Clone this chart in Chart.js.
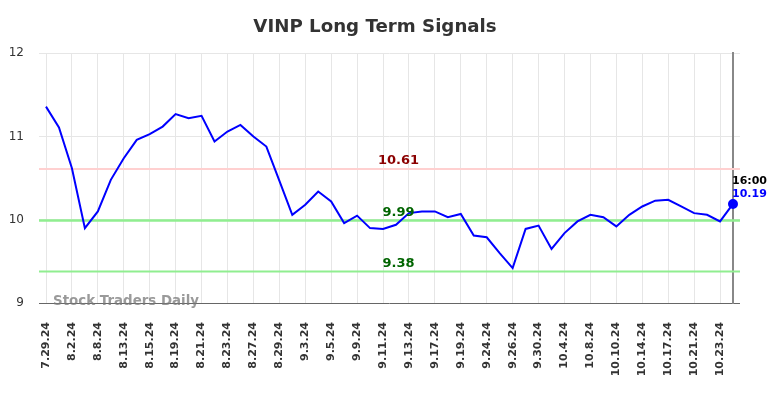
<!DOCTYPE html>
<html>
<head>
<meta charset="utf-8">
<script src="https://cdn.jsdelivr.net/npm/chart.js@4"></script>
<style>
  html, body { margin: 0; padding: 0; background: #fff; }
  #wrap { width: 784px; height: 398px; }
</style>
</head>
<body>
<div id="wrap"><canvas id="chart" width="784" height="398"></canvas></div>
<script>
// Chart data
const dates = [
  '7.29.24', '7.31.24', '8.2.24', '8.6.24', '8.8.24', '8.12.24', '8.13.24', '8.14.24', '8.15.24', '8.16.24',
  '8.19.24', '8.20.24', '8.21.24', '8.22.24', '8.23.24', '8.26.24', '8.27.24', '8.28.24', '8.29.24', '8.30.24',
  '9.3.24', '9.4.24', '9.5.24', '9.6.24', '9.9.24', '9.10.24', '9.11.24', '9.12.24', '9.13.24', '9.16.24',
  '9.17.24', '9.18.24', '9.19.24', '9.20.24', '9.24.24', '9.25.24', '9.26.24', '9.27.24', '9.30.24', '10.2.24',
  '10.4.24', '10.7.24', '10.8.24', '10.9.24', '10.10.24', '10.11.24', '10.14.24', '10.15.24', '10.17.24', '10.18.24',
  '10.21.24', '10.22.24', '10.23.24', '10.24.24'
];
const prices = [
  11.36, 11.11, 10.62, 9.90, 10.10, 10.48, 10.74, 10.96, 11.03, 11.12,
  11.27, 11.22, 11.25, 10.94, 11.06, 11.14, 11.00, 10.88, 10.47, 10.06,
  10.18, 10.34, 10.22, 9.96, 10.05, 9.90, 9.89, 9.94, 10.08, 10.10,
  10.10, 10.03, 10.07, 9.81, 9.79, 9.60, 9.42, 9.89, 9.93, 9.65,
  9.84, 9.98, 10.06, 10.03, 9.92, 10.06, 10.16, 10.23, 10.24, 10.16,
  10.08, 10.06, 9.98, 10.19
];
const signalLevels = [10.61, 9.99, 9.38];
const yTicks = [9, 10, 11, 12];
const lastTime = '16:00';

// Styles for the signal lines
const levelLineColors = ['#ffd0d0', '#90ee90', '#90ee90'];
const levelLineWidths = [2, 2.5, 2];
const levelTextColors = ['#8b0000', '#006400', '#006400'];

const lastIndex = prices.length - 1;

const overlayPlugin = {
  id: 'overlay',
  beforeDatasetsDraw(chart) {
    const { ctx, chartArea, scales } = chart;
    ctx.save();
    signalLevels.forEach((lvl, i) => {
      const y = scales.y.getPixelForValue(lvl);
      ctx.strokeStyle = levelLineColors[i];
      ctx.lineWidth = levelLineWidths[i];
      ctx.beginPath();
      ctx.moveTo(chartArea.left - 7, y);
      ctx.lineTo(chartArea.right + 7, y);
      ctx.stroke();
    });
    // watermark
    ctx.font = 'bold 13.4px "DejaVu Sans"';
    ctx.fillStyle = 'rgba(120,120,120,0.75)';
    ctx.textAlign = 'left';
    ctx.textBaseline = 'middle';
    ctx.fillText('Stock Traders Daily', chartArea.left + 7, chartArea.bottom - 1);
    ctx.restore();
  },
  afterDatasetsDraw(chart) {
    const { ctx, chartArea, scales } = chart;
    ctx.save();
    ctx.font = 'bold 13px "DejaVu Sans"';
    ctx.textAlign = 'center';
    ctx.textBaseline = 'middle';
    const cx = (chartArea.left + chartArea.right) / 2 + 9;
    signalLevels.forEach((lvl, i) => {
      const y = scales.y.getPixelForValue(lvl);
      ctx.fillStyle = levelTextColors[i];
      ctx.fillText(lvl.toFixed(2), cx, y - 8);
    });
    // last value labels
    const px = scales.x.getPixelForValue(lastIndex);
    const py = scales.y.getPixelForValue(prices[lastIndex]);
    ctx.font = 'bold 11px "DejaVu Sans"';
    ctx.textAlign = 'left';
    ctx.fillStyle = '#000';
    ctx.fillText(lastTime, px - 1, py - 23);
    ctx.fillStyle = '#0000ff';
    ctx.fillText(prices[lastIndex].toFixed(2), px - 1, py - 10);
    ctx.restore();
  }
};

new Chart(document.getElementById('chart'), {
  type: 'line',
  data: {
    labels: dates,
    datasets: [{
      data: prices,
      borderColor: '#0000ff',
      backgroundColor: '#0000ff',
      borderWidth: 2,
      tension: 0,
      pointRadius: ctx => ctx.dataIndex === lastIndex ? 4 : 0,
      pointHoverRadius: 0
    }]
  },
  options: {
    responsive: false,
    animation: false,
    layout: { padding: { left: 0, right: 34, top: 0, bottom: 0 } },
    plugins: {
      legend: { display: false },
      tooltip: { enabled: false },
      title: {
        display: true,
        text: 'VINP Long Term Signals',
        color: '#333',
        font: { family: 'DejaVu Sans', size: 18.2, weight: 'bold' },
        padding: { top: 16, bottom: 15.5 }
      }
    },
    scales: {
      x: {
        grid: {
          color: ctx => (ctx.index % 2 === 0 ? '#e6e6e6' : 'rgba(0,0,0,0)'),
          drawTicks: false
        },
        border: { display: false },
        ticks: {
          autoSkip: false,
          minRotation: 90,
          maxRotation: 90,
          padding: 19,
          color: '#333',
          font: { family: 'DejaVu Sans', size: 11, weight: 'bold' },
          callback: (val, i) => (i % 2 === 0 ? dates[i] : '')
        },
        afterFit: scale => { scale.height = 95; }
      },
      y: {
        min: yTicks[0],
        max: yTicks[yTicks.length - 1],
        afterBuildTicks: scale => { scale.ticks = yTicks.map(v => ({ value: v })); },
        grid: {
          color: ctx => (ctx.tick && ctx.tick.value === yTicks[0] ? '#666' : '#e6e6e6'),
          tickLength: 7
        },
        border: { display: false },
        ticks: {
          padding: 15,
          color: '#333',
          font: { family: 'DejaVu Sans', size: 12 }
        },
        afterFit: scale => { scale.width = 46; }
      },
      y2: {
        position: 'right',
        min: yTicks[0],
        max: yTicks[yTicks.length - 1],
        afterBuildTicks: scale => { scale.ticks = yTicks.map(v => ({ value: v })); },
        grid: {
          drawOnChartArea: false,
          color: ctx => (ctx.tick && ctx.tick.value === yTicks[0] ? '#666' : '#e6e6e6'),
          tickLength: 7
        },
        border: { display: true, color: '#888', width: 2 },
        ticks: { display: false },
        afterFit: scale => { scale.width = 17; }
      }
    }
  },
  plugins: [overlayPlugin]
});
</script>
</body>
</html>
